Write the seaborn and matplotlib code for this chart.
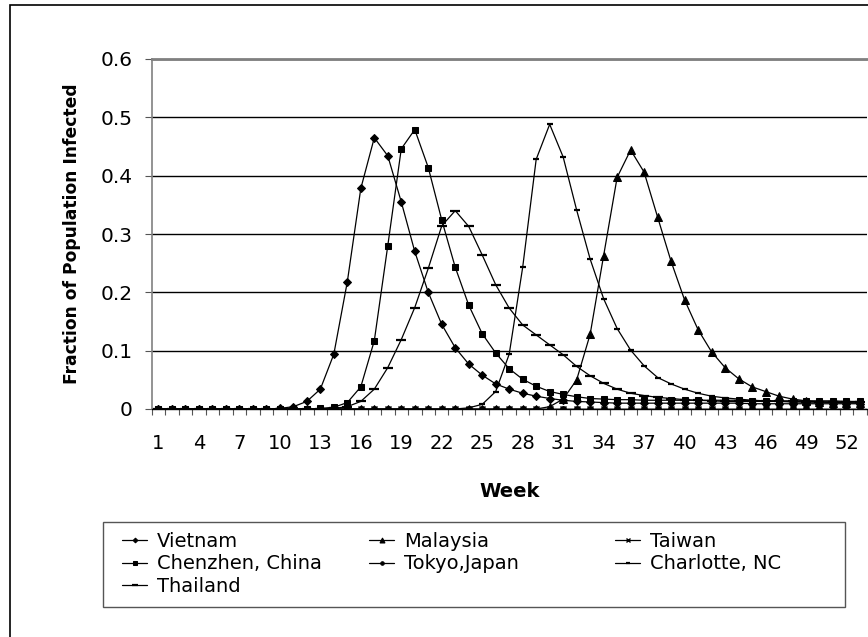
import numpy as np
import pandas as pd
import matplotlib
matplotlib.use("Agg")
import matplotlib.pyplot as plt
import matplotlib.patches as mpatches
from matplotlib.ticker import FuncFormatter
import seaborn as sns

weeks = list(range(1, 54))

vietnam = [0]*9 + [0.001, 0.004, 0.013, 0.034, 0.094, 0.218, 0.378, 0.465, 0.434, 0.355,
                   0.270, 0.200, 0.145, 0.105, 0.077, 0.058, 0.043, 0.034, 0.027, 0.022,
                   0.018, 0.015, 0.013, 0.012, 0.011] + [0.010]*10 + [0.009]*9
chenzhen = [0]*12 + [0.001, 0.003, 0.011, 0.038, 0.117, 0.280, 0.446, 0.479, 0.414, 0.324,
                     0.243, 0.178, 0.129, 0.096, 0.069, 0.051, 0.039, 0.030, 0.025, 0.021,
                     0.018, 0.017, 0.016, 0.016] + [0.015]*8 + [0.014]*7 + [0.013]*2
thailand = [0]*13 + [0.001, 0.004, 0.013, 0.034, 0.071, 0.119, 0.174, 0.241, 0.314, 0.340,
                     0.313, 0.264, 0.213, 0.173, 0.144, 0.127, 0.110, 0.093, 0.073, 0.057,
                     0.044, 0.034, 0.027, 0.023, 0.020, 0.018, 0.016, 0.015, 0.014, 0.013] + [0.013]*5 + [0.012]*5
charlotte = [0]*23 + [0.002, 0.008, 0.030, 0.094, 0.243, 0.428, 0.488, 0.432, 0.341, 0.257,
                      0.189, 0.138, 0.101, 0.074, 0.054, 0.043, 0.034, 0.027, 0.022, 0.019,
                      0.017, 0.015, 0.014, 0.013] + [0.012]*6
malaysia = [0]*29 + [0.004, 0.017, 0.050, 0.128, 0.263, 0.397, 0.444, 0.406, 0.329, 0.253,
                     0.187, 0.136, 0.098, 0.071, 0.052, 0.038, 0.030, 0.022, 0.017, 0.014,
                     0.012, 0.011, 0.011, 0.010]
taiwan = [0.0]*53
tokyo = [0.0]*53

series = {
    "Vietnam": vietnam,
    "Chenzhen, China": chenzhen,
    "Thailand": thailand,
    "Malaysia": malaysia,
    "Tokyo,Japan": tokyo,
    "Taiwan": taiwan,
    "Charlotte, NC": charlotte,
}

week_tick_labels = [str(w) for w in range(1, 54, 3)]
y_ticks = [0, 0.1, 0.2, 0.3, 0.4, 0.5, 0.6]

sns.set_theme(style="white")
plt.rcParams['font.family'] = ['DejaVu Sans']
plt.rcParams['text.color'] = 'black'
plt.rcParams['axes.labelcolor'] = 'black'
plt.rcParams['xtick.color'] = 'black'
plt.rcParams['ytick.color'] = 'black'

W, H = 868, 637
fig = plt.figure(figsize=(W/100, H/100), dpi=100)
ax_l, ax_r, ax_t, ax_b = 151.7, 866.7, 59, 409
ax = fig.add_axes([ax_l/W, 1-ax_b/H, (ax_r-ax_l)/W, (ax_b-ax_t)/H])

styles = {
    "Vietnam": dict(marker="D", markersize=4.0),
    "Chenzhen, China": dict(marker="s", markersize=4.6),
    "Thailand": dict(marker="_", markersize=7, markeredgewidth=1.6),
    "Malaysia": dict(marker="^", markersize=6.0),
    "Tokyo,Japan": dict(marker="o", markersize=4.2),
    "Taiwan": dict(marker="x", markersize=4.5, markeredgewidth=1.0),
    "Charlotte, NC": dict(marker="_", markersize=4, markeredgewidth=1.6),
}

handles = {}
for name, vals in series.items():
    df = pd.DataFrame({"week": weeks, "val": vals})
    sns.lineplot(data=df, x="week", y="val", ax=ax, color="black", linewidth=0.9,
                 markeredgecolor="black", markerfacecolor="black", zorder=3,
                 **styles[name])
    handles[name] = ax.lines[-1]

ax.set_xlim(0.5, 53.5)
ax.set_ylim(0, 0.6)
ax.set_xticks(list(range(1, 54, 3)))
ax.set_xticklabels(week_tick_labels)
ax.set_xticks(np.arange(0.5, 54, 1), minor=True)
ax.tick_params(axis="x", which="major", length=0, pad=18, labelsize=14, labelcolor="black")
ax.tick_params(axis="x", which="minor", length=4, width=0.8, color="#555555", direction="out", bottom=True)
ax.set_yticks(y_ticks)
ax.yaxis.set_major_formatter(FuncFormatter(lambda v, p: "0" if abs(v) < 1e-9 else f"{v:.1f}"))
ax.tick_params(axis="y", which="major", length=5, width=0.8, color="#555555", direction="out",
               left=True, pad=9, labelsize=14.5, labelcolor="black")
ax.set_axisbelow(True)
ax.yaxis.grid(True, color="black", linewidth=1.0)
ax.xaxis.grid(False)

ax.spines["right"].set_visible(False)
ax.spines["top"].set_color("#808080")
ax.spines["top"].set_linewidth(2)
ax.spines["left"].set_color("#808080")
ax.spines["left"].set_linewidth(1.2)
ax.spines["bottom"].set_color("black")
ax.spines["bottom"].set_linewidth(1.0)

ax.set_xlabel("Week", fontsize=14, fontweight="bold", labelpad=21, color="black")
ax.set_ylabel("Fraction of Population Infected", fontsize=12.3, fontweight="bold", labelpad=14, color="black")

# outer border
fig.add_artist(mpatches.Rectangle((10/W, -0.05), 1.2, 1 - 5/H + 0.05, transform=fig.transFigure,
                                  fill=False, edgecolor="black", linewidth=1.2))
# legend frame
fig.add_artist(mpatches.Rectangle((103/W, 1 - 607/H), (845-103)/W, (607-522)/H,
                                  transform=fig.transFigure, fill=False,
                                  edgecolor="#555555", linewidth=1.0))

cols = [(["Vietnam", "Chenzhen, China", "Thailand"], 122),
        (["Malaysia", "Tokyo,Japan"], 369),
        (["Taiwan", "Charlotte, NC"], 615)]
for names, x0 in cols:
    leg = fig.legend([handles[n] for n in names], names, loc="upper left",
                     bbox_to_anchor=(x0/W, 1 - 532/H), frameon=False, borderpad=0,
                     borderaxespad=0, fontsize=14, handlelength=1.3, handletextpad=0.5,
                     labelspacing=0.17, markerscale=0.6)
    for t in leg.get_texts():
        t.set_color("black")

fig.savefig("out.png", dpi=100)
